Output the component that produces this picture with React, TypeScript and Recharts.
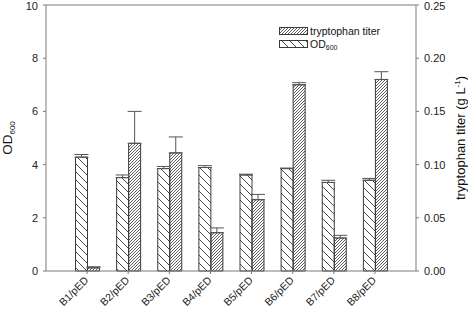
import React from "react";
import {
  Bar,
  BarChart,
  ErrorBar,
  Legend,
  ReferenceLine,
  XAxis,
  YAxis,
} from "recharts";

// values
const strains = ["B1/pED", "B2/pED", "B3/pED", "B4/pED", "B5/pED", "B6/pED", "B7/pED", "B8/pED"];
const od600 = [4.28, 3.51, 3.85, 3.89, 3.61, 3.85, 3.33, 3.41];
const od600Err = [0.1, 0.1, 0.08, 0.07, 0.03, 0.02, 0.08, 0.07];
const trpTiter = [0.003, 0.12, 0.111, 0.036, 0.067, 0.175, 0.031, 0.18];
const trpTiterErr = [0.001, 0.03, 0.015, 0.0045, 0.005, 0.002, 0.0025, 0.0073];
const odTicks = [0, 2, 4, 6, 8, 10];
const trpTicks = [0, 0.05, 0.1, 0.15, 0.2, 0.25];

const data = strains.map((name, i) => ({
  name,
  od: od600[i],
  odErr: [0, od600Err[i]],
  trp: trpTiter[i],
  trpErr: [0, trpTiterErr[i]],
}));

const FONT = "'Liberation Sans', Arial, sans-serif";
const AXIS = "#7a7a7a";
const EDGE = "#3a3a3a";

function Patterns() {
  return (
    <defs>
      <pattern id="odHatch" width="8" height="8" patternUnits="userSpaceOnUse">
        <path d="M-2,-2 L10,10 M-2,6 L2,10 M6,-2 L10,2" stroke="#333" strokeWidth="0.9" />
      </pattern>
      <pattern id="trpHatch" width="3" height="3" patternUnits="userSpaceOnUse">
        <path d="M-1,4 L4,-1 M-1,1 L1,-1 M2,4 L4,2" stroke="#333" strokeWidth="0.8" />
      </pattern>
    </defs>
  );
}

function XTick(props: any) {
  const { x, y, payload } = props;
  return (
    <g transform={`translate(${x + 2},${y + 5})`}>
      <text
        textAnchor="end"
        transform="rotate(-45)"
        fontSize={10.5}
        fontFamily={FONT}
        fill="#222"
      >
        {payload.value}
      </text>
    </g>
  );
}

function OdLabel(props: any) {
  const vb = props.viewBox;
  const cx = 12;
  const cy = vb.y + vb.height / 2;
  return (
    <text
      transform={`translate(${cx},${cy}) rotate(-90)`}
      textAnchor="middle"
      fontSize={13.5}
      fontFamily={FONT}
      fill="#111"
    >
      OD
      <tspan fontSize={8} dy={3}>600</tspan>
    </text>
  );
}

function TrpLabel(props: any) {
  const vb = props.viewBox;
  const cx = 465;
  const cy = vb.y + vb.height / 2;
  return (
    <text
      transform={`translate(${cx},${cy}) rotate(-90)`}
      textAnchor="middle"
      fontSize={13}
      fontFamily={FONT}
      fill="#111"
    >
      tryptophan titer (g L
      <tspan fontSize={8} dy={-5}>-1</tspan>
      <tspan dy={5}>)</tspan>
    </text>
  );
}

function LegendBox() {
  const rows = [
    { label: "tryptophan titer", fill: "url(#trpHatch)", sub: false },
    { label: "OD", fill: "url(#odHatch)", sub: true },
  ];
  return (
    <svg width={120} height={30} style={{ display: "block" }}>
      {rows.map((r, i) => (
        <g key={r.label} transform={`translate(0,${i * 13})`}>
          <rect x={0.5} y={2.5} width={28} height={7} fill={r.fill} stroke={EDGE} />
          <text x={31} y={10} fontSize={10.5} fontFamily={FONT} fill="#111">
            {r.label}
            {r.sub && (
              <tspan fontSize={7} dy={2}>600</tspan>
            )}
          </text>
        </g>
      ))}
    </svg>
  );
}

export default function App() {
  return (
    <div style={{ position: "absolute", left: 0, top: 0, width: 472, height: 309 }}>
      <BarChart
        width={472}
        height={309}
        data={data}
        margin={{ top: 5, right: 0, bottom: 0, left: 0 }}
        barSize={12}
        barGap={0}
      >
        <Patterns />
        <XAxis
          dataKey="name"
          height={38}
          padding={{ left: 20.5, right: 20.5 }}
          tick={<XTick />}
          tickSize={3}
          tickLine={{ stroke: AXIS }}
          axisLine={{ stroke: AXIS }}
          interval={0}
        />
        <YAxis
          yAxisId="od"
          width={46}
          domain={[0, 10]}
          ticks={odTicks}
          tickSize={3}
          tickMargin={5}
          tickLine={{ stroke: AXIS }}
          axisLine={{ stroke: AXIS }}
          tick={{ fontSize: 11, fontFamily: FONT, fill: "#222" }}
          label={<OdLabel />}
        />
        <YAxis
          yAxisId="trp"
          orientation="right"
          width={56}
          domain={[0, 0.25]}
          ticks={trpTicks}
          tickFormatter={(v: number) => v.toFixed(2)}
          tickSize={3}
          tickMargin={5}
          tickLine={{ stroke: AXIS }}
          axisLine={{ stroke: AXIS }}
          tick={{ fontSize: 11, fontFamily: FONT, fill: "#222" }}
          label={<TrpLabel />}
        />
        <ReferenceLine yAxisId="od" y={10} stroke={AXIS} />
        <Legend
          layout="horizontal"
          verticalAlign="middle"
          align="center"
          content={() => <LegendBox />}
          wrapperStyle={{ position: "absolute", left: 279, top: 25, width: 120 }}
        />
        <Bar
          yAxisId="od"
          dataKey="od"
          name="OD600"
          fill="url(#odHatch)"
          stroke={EDGE}
          strokeWidth={1}
          isAnimationActive={false}
        >
          <ErrorBar dataKey="odErr" width={7} stroke="#555" strokeWidth={1} />
        </Bar>
        <Bar
          yAxisId="trp"
          dataKey="trp"
          name="tryptophan titer"
          fill="url(#trpHatch)"
          stroke={EDGE}
          strokeWidth={1}
          isAnimationActive={false}
        >
          <ErrorBar dataKey="trpErr" width={7} stroke="#555" strokeWidth={1} />
        </Bar>
      </BarChart>
    </div>
  );
}
